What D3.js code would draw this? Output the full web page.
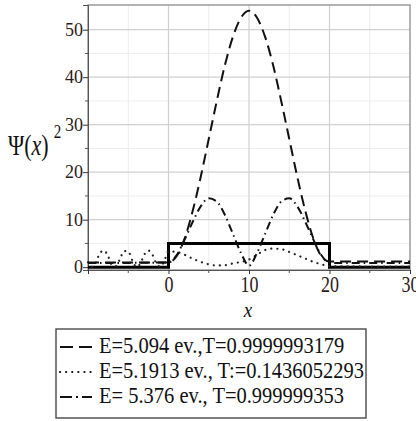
<!DOCTYPE html>
<html><head><meta charset="utf-8">
<script src="https://cdn.jsdelivr.net/npm/d3@7"></script>
</head><body>
<script>
// ---- data ----
const xTicks = [-10, 0, 10, 20, 30];
const xTickLabels = ["", "0", "10", "20", "30"];
const yTicks = [0, 10, 20, 30, 40, 50];
const legendLabels = ["E=5.094 ev.,T=0.9999993179", "E=5.1913 ev., T:=0.1436052293", "E= 5.376 ev., T=0.999999353"];

const dashedX = [-10, -5, 0, 1, 2, 3, 4, 5, 6, 7, 8, 9, 10, 11, 12, 13, 14, 15, 16, 17, 18, 19, 20, 25, 30];
const dashedY = [1.0, 1.0, 1.0, 2.3, 6.0, 11.8, 19.0, 27.0, 35.0, 42.5, 48.5, 52.5, 54.0, 52.5, 48.5, 42.5, 35.0, 27.0, 19.0, 11.8, 6.0, 2.3, 1.2, 1.2, 1.2];

const dottedX = [-10, -9.5, -9, -8.5, -8, -7.5, -7, -6.5, -6, -5.5, -5, -4.5, -4, -3.5, -3, -2.5, -2, -1.5, -1, -0.5, 0, 1, 2, 3, 4, 5, 6, 7, 8, 9, 10, 11, 12, 13, 14, 15, 16, 17, 18, 19, 20, 25, 30];
const dottedY = [1.05, 0.05, 1.06, 3.0, 3.5, 2.27, 0.42, 0.2, 1.86, 3.4, 3.3, 1.45, 0.07, 0.71, 2.66, 3.5, 2.66, 0.71, 0.07, 1.45, 3.3, 3.2, 2.6, 1.8, 1.1, 0.6, 0.35, 0.4, 0.8, 1.1, 1.6, 2.6, 3.6, 3.9, 3.8, 3.2, 2.5, 1.8, 1.1, 0.6, 0.2, 0.14, 0.14];

const dashDotX = [-10, -5, 0, 1, 2, 3, 4, 5, 6, 7, 8, 9, 10, 11, 12, 13, 14, 15, 16, 17, 18, 19, 20, 25, 30];
const dashDotY = [0.9, 0.9, 1.0, 2.5, 5.8, 9.5, 12.8, 14.5, 13.8, 11.0, 7.0, 3.0, 0.3, 3.0, 7.0, 11.0, 13.8, 14.5, 12.8, 9.5, 5.8, 2.5, 0.9, 0.9, 0.9];

const barrierX = [-10, 0, 0, 20, 20, 30];
const barrierY = [0, 0, 5, 5, 0, 0];

// ---- chart ----
const W = 416, H = 421;
const FONT = "Liberation Serif";
d3.select("body").style("margin", "0px").style("background", "#fff");
const svg = d3.select("body").append("svg").attr("width", W).attr("height", H)
  .style("display", "block").style("font-family", FONT);
const x = d3.scaleLinear().domain([-10, 30]).range([88, 410]);
const y = d3.scaleLinear().domain([-0.6, 55.2]).range([270, 5]);

// grid
const gx5 = d3.range(-5, 30, 10), gy5 = d3.range(5, 55, 10);
svg.append("g").selectAll("line").data(gx5).join("line")
  .attr("x1", d => x(d)).attr("x2", d => x(d)).attr("y1", 5).attr("y2", 270)
  .attr("stroke", "#ececec").attr("stroke-width", 1);
svg.append("g").selectAll("line").data(gy5).join("line")
  .attr("y1", d => y(d)).attr("y2", d => y(d)).attr("x1", 88).attr("x2", 410)
  .attr("stroke", "#ececec").attr("stroke-width", 1);
svg.append("g").selectAll("line").data([0, 10, 20]).join("line")
  .attr("x1", d => x(d)).attr("x2", d => x(d)).attr("y1", 5).attr("y2", 270)
  .attr("stroke", "#d0d0d0").attr("stroke-width", 1.2);
svg.append("g").selectAll("line").data([10, 20, 30, 40, 50]).join("line")
  .attr("y1", d => y(d)).attr("y2", d => y(d)).attr("x1", 88).attr("x2", 410)
  .attr("stroke", "#d0d0d0").attr("stroke-width", 1.2);

// frame
svg.append("rect").attr("x", 88).attr("y", 5).attr("width", 322).attr("height", 265)
  .attr("fill", "none").attr("stroke", "#9a9a9a").attr("stroke-width", 1.5);

// axes
const yAxis = d3.axisLeft(y).tickValues(yTicks).tickSize(5).tickFormat(d3.format("d"));
const gy = svg.append("g").attr("transform", "translate(88,0)").call(yAxis);
gy.attr("font-family", FONT).attr("font-size", 18);
gy.select(".domain").attr("stroke", "#555");
gy.selectAll(".tick line").attr("stroke", "#333");
gy.selectAll("text").style("font-family", FONT).style("font-size", "18px").attr("fill", "#2a2018").attr("x", -5);
svg.append("g").selectAll("line").data(gy5).join("line")
  .attr("x1", 85).attr("x2", 88).attr("y1", d => y(d)).attr("y2", d => y(d)).attr("stroke", "#555");

const xAxis = d3.axisBottom(x).tickValues(xTicks).tickSize(4).tickFormat((d, i) => xTickLabels[i]);
const gxA = svg.append("g").attr("transform", "translate(0,270)").call(xAxis);
gxA.attr("font-family", FONT).attr("font-size", 18);
gxA.select(".domain").attr("stroke", "#555");
gxA.selectAll(".tick line").attr("stroke", "#333");
gxA.selectAll("text").style("font-family", FONT).style("font-size", "18px").attr("fill", "#2a2018")
  .attr("y", 0).attr("dy", 0).attr("transform", "translate(0,22) scale(1,1.25)");
svg.append("g").selectAll("line").data(gx5).join("line")
  .attr("x1", d => x(d)).attr("x2", d => x(d)).attr("y1", 270).attr("y2", 273).attr("stroke", "#555");

// curves
const line = d3.line().x(d => x(d[0])).y(d => y(d[1]));
const smooth = d3.line().x(d => x(d[0])).y(d => y(d[1])).curve(d3.curveMonotoneX);
const zip = (a, b) => a.map((v, i) => [v, b[i]]);

svg.append("path").datum(zip(barrierX, barrierY)).attr("d", line)
  .attr("fill", "none").attr("stroke", "#000").attr("stroke-width", 3);
svg.append("path").datum(zip(dottedX, dottedY)).attr("d", smooth)
  .attr("fill", "none").attr("stroke", "#222").attr("stroke-width", 2.2)
  .attr("stroke-linecap", "round").attr("stroke-dasharray", "0.1,6");
svg.append("path").datum(zip(dashDotX, dashDotY)).attr("d", smooth)
  .attr("fill", "none").attr("stroke", "#111").attr("stroke-width", 2)
  .attr("stroke-dasharray", "8,4,1.5,4");
svg.append("path").datum(zip(dashedX, dashedY)).attr("d", smooth)
  .attr("fill", "none").attr("stroke", "#111").attr("stroke-width", 2)
  .attr("stroke-dasharray", "11,6");

// axis labels
svg.append("text").attr("transform", "translate(248,317) scale(1,1.15)").attr("text-anchor", "middle")
  .style("font-family", FONT).style("font-style", "italic").style("font-size", "19px").attr("fill", "#111").text("x");
const yl = svg.append("text").attr("transform", "translate(8,155) scale(1,1.3)")
  .style("font-family", FONT).style("font-size", "22px").attr("fill", "#111");
yl.append("tspan").text("Ψ(");
yl.append("tspan").style("font-style", "italic").text("x");
yl.append("tspan").text(")");
yl.append("tspan").style("font-size", "15px").attr("dy", -13).attr("dx", 5).text("2");

// legend
svg.append("rect").attr("x", 56).attr("y", 329).attr("width", 310).attr("height", 89)
  .attr("fill", "#fff").attr("stroke", "#555").attr("stroke-width", 1.5);
const dashes = ["13,6", "0.1,6", "12,4,2,4"];
const widths = [2.2, 2.2, 2.2];
legendLabels.forEach((t, i) => {
  const base = 353 + i * 25;
  svg.append("line").attr("x1", 60).attr("x2", 92).attr("y1", base - 6).attr("y2", base - 6)
    .attr("stroke", "#111").attr("stroke-width", widths[i]).attr("stroke-dasharray", dashes[i])
    .attr("stroke-linecap", i === 1 ? "round" : "butt");
  svg.append("text").attr("transform", `translate(99,${base}) scale(1,1.1)`)
    .style("font-family", FONT).style("font-size", "20.5px").attr("fill", "#111").text(t);
});
</script>
</body></html>
